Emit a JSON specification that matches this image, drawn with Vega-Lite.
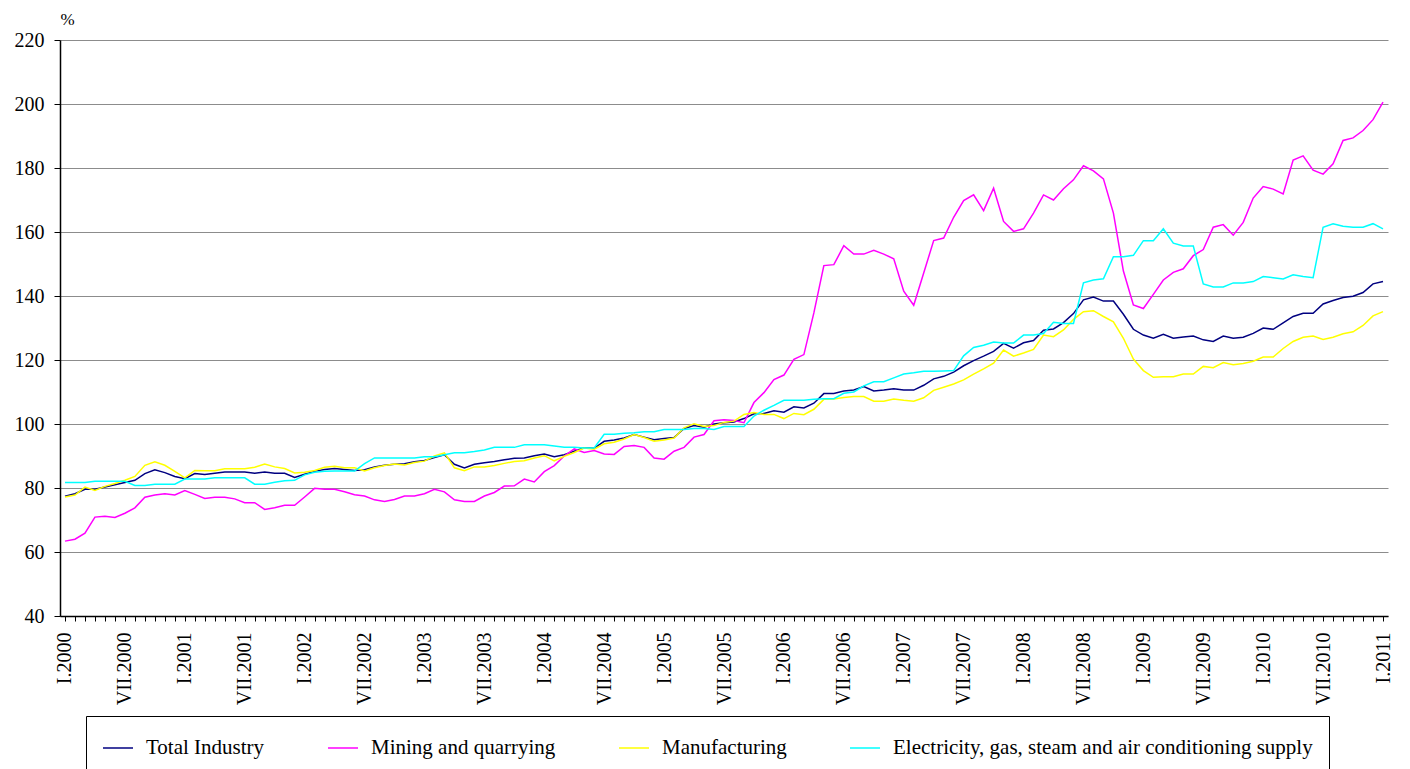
{
  "$schema": "https://vega.github.io/schema/vega-lite/v6.json",
  "width": 1328,
  "height": 576,
  "autosize": {"type": "none"},
  "padding": {"left": 60, "top": 40, "right": 22, "bottom": 153},
  "background": "white",
  "config": {"font": "Liberation Serif", "view": {"stroke": null}},
  "data": {"values": [
    {"p":"I.2000","ti":77.4,"mq":63.4,"mf":77.2,"el":81.7},
    {"p":"II.2000","ti":78.2,"mq":64.0,"mf":77.8,"el":81.7},
    {"p":"III.2000","ti":79.6,"mq":65.9,"mf":80.3,"el":81.7},
    {"p":"IV.2000","ti":79.6,"mq":70.9,"mf":79.2,"el":82.1},
    {"p":"V.2000","ti":80.3,"mq":71.2,"mf":80.5,"el":82.1},
    {"p":"VI.2000","ti":81.0,"mq":70.8,"mf":81.4,"el":82.1},
    {"p":"VII.2000","ti":81.7,"mq":72.1,"mf":82.4,"el":82.1},
    {"p":"VIII.2000","ti":82.4,"mq":73.8,"mf":83.6,"el":80.8},
    {"p":"IX.2000","ti":84.5,"mq":77.1,"mf":87.1,"el":80.8},
    {"p":"X.2000","ti":85.7,"mq":77.8,"mf":88.2,"el":81.2},
    {"p":"XI.2000","ti":84.8,"mq":78.2,"mf":87.1,"el":81.2},
    {"p":"XII.2000","ti":83.6,"mq":77.8,"mf":85.2,"el":81.2},
    {"p":"I.2001","ti":82.9,"mq":79.2,"mf":83.2,"el":82.8},
    {"p":"II.2001","ti":84.5,"mq":78.0,"mf":85.5,"el":82.8},
    {"p":"III.2001","ti":84.2,"mq":76.7,"mf":85.4,"el":82.8},
    {"p":"IV.2001","ti":84.6,"mq":77.1,"mf":85.4,"el":83.2},
    {"p":"V.2001","ti":85.0,"mq":77.1,"mf":86.0,"el":83.2},
    {"p":"VI.2001","ti":85.0,"mq":76.6,"mf":86.0,"el":83.2},
    {"p":"VII.2001","ti":85.0,"mq":75.4,"mf":86.0,"el":83.2},
    {"p":"VIII.2001","ti":84.6,"mq":75.4,"mf":86.5,"el":81.2},
    {"p":"IX.2001","ti":85.0,"mq":73.3,"mf":87.5,"el":81.2},
    {"p":"X.2001","ti":84.6,"mq":73.8,"mf":86.6,"el":81.8},
    {"p":"XI.2001","ti":84.6,"mq":74.6,"mf":86.1,"el":82.3},
    {"p":"XII.2001","ti":83.3,"mq":74.6,"mf":84.7,"el":82.4},
    {"p":"I.2002","ti":84.3,"mq":77.2,"mf":84.9,"el":84.1},
    {"p":"II.2002","ti":85.2,"mq":79.9,"mf":85.5,"el":84.9},
    {"p":"III.2002","ti":85.8,"mq":79.6,"mf":86.5,"el":85.2},
    {"p":"IV.2002","ti":86.1,"mq":79.6,"mf":86.8,"el":85.3},
    {"p":"V.2002","ti":85.8,"mq":78.8,"mf":86.3,"el":85.3},
    {"p":"VI.2002","ti":85.5,"mq":77.9,"mf":86.3,"el":85.3},
    {"p":"VII.2002","ti":85.7,"mq":77.5,"mf":85.3,"el":87.6},
    {"p":"VIII.2002","ti":86.6,"mq":76.3,"mf":86.3,"el":89.4},
    {"p":"IX.2002","ti":87.1,"mq":75.8,"mf":87.0,"el":89.4},
    {"p":"X.2002","ti":87.4,"mq":76.4,"mf":87.5,"el":89.4},
    {"p":"XI.2002","ti":87.6,"mq":77.5,"mf":87.2,"el":89.4},
    {"p":"XII.2002","ti":88.2,"mq":77.5,"mf":88.0,"el":89.4},
    {"p":"I.2003","ti":88.6,"mq":78.2,"mf":88.4,"el":89.8},
    {"p":"II.2003","ti":89.5,"mq":79.6,"mf":90.0,"el":89.8},
    {"p":"III.2003","ti":90.4,"mq":78.8,"mf":91.0,"el":90.4},
    {"p":"IV.2003","ti":87.4,"mq":76.3,"mf":86.3,"el":91.0},
    {"p":"V.2003","ti":86.3,"mq":75.8,"mf":85.4,"el":91.0},
    {"p":"VI.2003","ti":87.4,"mq":75.8,"mf":86.6,"el":91.4},
    {"p":"VII.2003","ti":87.9,"mq":77.5,"mf":86.6,"el":91.9},
    {"p":"VIII.2003","ti":88.3,"mq":78.6,"mf":87.0,"el":92.7},
    {"p":"IX.2003","ti":88.8,"mq":80.6,"mf":87.7,"el":92.7},
    {"p":"X.2003","ti":89.3,"mq":80.7,"mf":88.3,"el":92.7},
    {"p":"XI.2003","ti":89.4,"mq":82.8,"mf":88.5,"el":93.5},
    {"p":"XII.2003","ti":90.1,"mq":81.9,"mf":89.4,"el":93.5},
    {"p":"I.2004","ti":90.6,"mq":85.1,"mf":90.1,"el":93.5},
    {"p":"II.2004","ti":89.8,"mq":87.0,"mf":88.5,"el":93.1},
    {"p":"III.2004","ti":90.4,"mq":90.0,"mf":89.9,"el":92.7},
    {"p":"IV.2004","ti":91.5,"mq":92.2,"mf":91.1,"el":92.7},
    {"p":"V.2004","ti":92.6,"mq":91.1,"mf":92.5,"el":92.5},
    {"p":"VI.2004","ti":92.4,"mq":91.7,"mf":92.1,"el":92.5},
    {"p":"VII.2004","ti":94.6,"mq":90.6,"mf":93.8,"el":96.8},
    {"p":"VIII.2004","ti":95.0,"mq":90.5,"mf":94.3,"el":96.8},
    {"p":"IX.2004","ti":95.6,"mq":93.0,"mf":95.3,"el":97.1},
    {"p":"X.2004","ti":96.7,"mq":93.3,"mf":96.7,"el":97.3},
    {"p":"XI.2004","ti":95.9,"mq":92.7,"mf":95.8,"el":97.6},
    {"p":"XII.2004","ti":95.1,"mq":89.4,"mf":94.6,"el":97.6},
    {"p":"I.2005","ti":95.5,"mq":89.0,"mf":95.0,"el":98.3},
    {"p":"II.2005","ti":95.8,"mq":91.5,"mf":95.6,"el":98.3},
    {"p":"III.2005","ti":98.6,"mq":92.7,"mf":98.8,"el":98.3},
    {"p":"IV.2005","ti":99.5,"mq":95.9,"mf":100.1,"el":98.6},
    {"p":"V.2005","ti":99.0,"mq":96.7,"mf":99.2,"el":98.6},
    {"p":"VI.2005","ti":100.0,"mq":101.0,"mf":99.5,"el":98.3},
    {"p":"VII.2005","ti":100.4,"mq":101.3,"mf":100.5,"el":99.2},
    {"p":"VIII.2005","ti":100.6,"mq":101.1,"mf":100.9,"el":99.2},
    {"p":"IX.2005","ti":101.7,"mq":100.4,"mf":103.0,"el":99.2},
    {"p":"X.2005","ti":103.2,"mq":106.7,"mf":103.6,"el":102.5},
    {"p":"XI.2005","ti":103.3,"mq":109.8,"mf":103.0,"el":104.3},
    {"p":"XII.2005","ti":104.1,"mq":113.9,"mf":103.0,"el":105.8},
    {"p":"I.2006","ti":103.7,"mq":115.3,"mf":101.7,"el":107.4},
    {"p":"II.2006","ti":105.4,"mq":120.2,"mf":103.3,"el":107.4},
    {"p":"III.2006","ti":105.0,"mq":121.7,"mf":102.9,"el":107.4},
    {"p":"IV.2006","ti":106.5,"mq":134.7,"mf":104.6,"el":107.7},
    {"p":"V.2006","ti":109.5,"mq":149.5,"mf":107.7,"el":107.9},
    {"p":"VI.2006","ti":109.5,"mq":149.8,"mf":107.8,"el":107.9},
    {"p":"VII.2006","ti":110.3,"mq":155.7,"mf":108.3,"el":109.6},
    {"p":"VIII.2006","ti":110.6,"mq":153.1,"mf":108.6,"el":110.0},
    {"p":"IX.2006","ti":111.7,"mq":153.1,"mf":108.6,"el":111.9},
    {"p":"X.2006","ti":110.3,"mq":154.3,"mf":107.1,"el":113.2},
    {"p":"XI.2006","ti":110.6,"mq":153.1,"mf":107.1,"el":113.2},
    {"p":"XII.2006","ti":111.0,"mq":151.6,"mf":107.8,"el":114.4},
    {"p":"I.2007","ti":110.6,"mq":141.5,"mf":107.4,"el":115.6},
    {"p":"II.2007","ti":110.6,"mq":137.1,"mf":107.1,"el":116.0},
    {"p":"III.2007","ti":112.1,"mq":147.2,"mf":108.2,"el":116.5},
    {"p":"IV.2007","ti":114.1,"mq":157.3,"mf":110.5,"el":116.5},
    {"p":"V.2007","ti":114.9,"mq":158.1,"mf":111.5,"el":116.6},
    {"p":"VI.2007","ti":116.2,"mq":164.6,"mf":112.5,"el":116.7},
    {"p":"VII.2007","ti":118.2,"mq":169.8,"mf":113.8,"el":121.3},
    {"p":"VIII.2007","ti":119.8,"mq":171.6,"mf":115.6,"el":123.9},
    {"p":"IX.2007","ti":121.2,"mq":166.7,"mf":117.2,"el":124.6},
    {"p":"X.2007","ti":122.7,"mq":173.7,"mf":119.0,"el":125.6},
    {"p":"XI.2007","ti":125.2,"mq":163.3,"mf":123.1,"el":125.3},
    {"p":"XII.2007","ti":123.7,"mq":160.2,"mf":121.2,"el":125.3},
    {"p":"I.2008","ti":125.4,"mq":161.0,"mf":122.2,"el":127.8},
    {"p":"II.2008","ti":126.1,"mq":165.9,"mf":123.3,"el":127.8},
    {"p":"III.2008","ti":129.3,"mq":171.6,"mf":127.8,"el":128.3},
    {"p":"IV.2008","ti":129.7,"mq":170.0,"mf":127.3,"el":131.8},
    {"p":"V.2008","ti":131.7,"mq":173.5,"mf":129.4,"el":131.4},
    {"p":"VI.2008","ti":134.5,"mq":176.3,"mf":132.7,"el":131.4},
    {"p":"VII.2008","ti":138.8,"mq":180.7,"mf":135.1,"el":144.1},
    {"p":"VIII.2008","ti":139.7,"mq":179.1,"mf":135.4,"el":145.0},
    {"p":"IX.2008","ti":138.4,"mq":176.6,"mf":133.6,"el":145.4},
    {"p":"X.2008","ti":138.4,"mq":165.9,"mf":131.9,"el":152.3},
    {"p":"XI.2008","ti":134.3,"mq":147.8,"mf":126.8,"el":152.3},
    {"p":"XII.2008","ti":129.6,"mq":137.2,"mf":120.3,"el":152.7},
    {"p":"I.2009","ti":127.8,"mq":136.1,"mf":116.7,"el":157.3},
    {"p":"II.2009","ti":126.8,"mq":140.5,"mf":114.6,"el":157.3},
    {"p":"III.2009","ti":128.0,"mq":145.0,"mf":114.8,"el":161.0},
    {"p":"IV.2009","ti":126.8,"mq":147.4,"mf":114.8,"el":156.5},
    {"p":"V.2009","ti":127.2,"mq":148.5,"mf":115.6,"el":155.6},
    {"p":"VI.2009","ti":127.5,"mq":152.6,"mf":115.6,"el":155.6},
    {"p":"VII.2009","ti":126.3,"mq":154.5,"mf":118.0,"el":143.8},
    {"p":"VIII.2009","ti":125.8,"mq":161.5,"mf":117.6,"el":142.8},
    {"p":"IX.2009","ti":127.5,"mq":162.3,"mf":119.2,"el":142.8},
    {"p":"X.2009","ti":126.8,"mq":159.0,"mf":118.5,"el":144.1},
    {"p":"XI.2009","ti":127.1,"mq":163.0,"mf":118.9,"el":144.1},
    {"p":"XII.2009","ti":128.3,"mq":170.6,"mf":119.6,"el":144.5},
    {"p":"I.2010","ti":130.0,"mq":174.2,"mf":120.9,"el":146.1},
    {"p":"II.2010","ti":129.6,"mq":173.4,"mf":120.9,"el":145.7},
    {"p":"III.2010","ti":131.6,"mq":171.9,"mf":123.6,"el":145.3},
    {"p":"IV.2010","ti":133.6,"mq":182.5,"mf":125.8,"el":146.6},
    {"p":"V.2010","ti":134.6,"mq":183.8,"mf":127.1,"el":146.1},
    {"p":"VI.2010","ti":134.6,"mq":179.3,"mf":127.5,"el":145.7},
    {"p":"VII.2010","ti":137.5,"mq":178.1,"mf":126.4,"el":161.5},
    {"p":"VIII.2010","ti":138.6,"mq":181.3,"mf":127.1,"el":162.6},
    {"p":"IX.2010","ti":139.5,"mq":188.6,"mf":128.2,"el":161.8},
    {"p":"X.2010","ti":139.9,"mq":189.4,"mf":128.8,"el":161.5},
    {"p":"XI.2010","ti":141.1,"mq":191.7,"mf":130.8,"el":161.5},
    {"p":"XII.2010","ti":143.8,"mq":195.1,"mf":133.8,"el":162.6},
    {"p":"I.2011","ti":144.5,"mq":200.6,"mf":135.1,"el":161.0}
  ]},
  "transform": [{"fold": ["ti", "mq", "mf", "el"], "as": ["series", "value"]}],
  "mark": {"type": "line", "strokeWidth": 1.5},
  "encoding": {
    "x": {
      "field": "p",
      "type": "ordinal",
      "sort": null,
      "scale": {"type": "point", "padding": 0.5},
      "axis": {
        "title": null,
        "labelAngle": 270,
        "labelExpr": "indexof(datum.value, 'I.') == 0 || indexof(datum.value, 'VII.') == 0 ? datum.value : ''",
        "labelOverlap": false,
        "labelFontSize": 20,
        "labelColor": "black",
        "labelPadding": 11,
        "tickSize": 5,
        "tickColor": "black",
        "domainColor": "black",
        "domainWidth": 1.5,
        "grid": false
      }
    },
    "y": {
      "field": "value",
      "type": "quantitative",
      "scale": {"domain": [40, 220], "nice": false, "zero": false},
      "axis": {
        "title": "%",
        "titleAngle": 0,
        "titleX": 0,
        "titleY": -21,
        "titleAlign": "left",
        "titleBaseline": "middle",
        "titleFontSize": 17,
        "titleFontWeight": "normal",
        "titleColor": "black",
        "values": [40, 60, 80, 100, 120, 140, 160, 180, 200, 220],
        "grid": true,
        "gridColor": "#8c8c8c",
        "gridWidth": 1,
        "tickSize": 6,
        "tickColor": "black",
        "domainColor": "black",
        "domainWidth": 1.5,
        "labelFontSize": 20,
        "labelColor": "black",
        "labelPadding": 10
      }
    },
    "color": {
      "field": "series",
      "type": "nominal",
      "scale": {"domain": ["ti", "mq", "mf", "el"], "range": ["#000080", "#FF00FF", "#FFFF00", "#00FFFF"]},
      "legend": {
        "title": null,
        "orient": "none",
        "legendX": 26,
        "legendY": 676,
        "direction": "horizontal",
        "symbolType": "stroke",
        "symbolSize": 900,
        "symbolStrokeWidth": 1.5,
        "labelFontSize": 21,
        "labelColor": "black",
        "labelOffset": 12,
        "labelLimit": 0,
        "columnPadding": 60,
        "padding": 16,
        "strokeColor": "black",
        "fillColor": "white",
        "labelExpr": "datum.label == 'ti' ? 'Total Industry' : datum.label == 'mq' ? 'Mining and quarrying' : datum.label == 'mf' ? 'Manufacturing' : 'Electricity, gas, steam and air conditioning supply'"
      }
    }
  }
}
